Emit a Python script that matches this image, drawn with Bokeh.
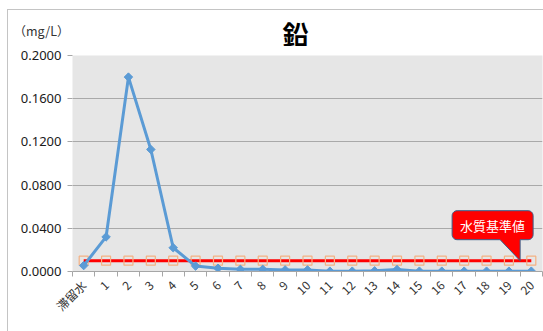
from math import pi
import numpy as np
from bokeh.plotting import figure
from bokeh.layouts import column
from bokeh.models import Range1d, FixedTicker, NumeralTickFormatter, Label
from bokeh.core.properties import value
from bokeh.embed import file_html
from bokeh.resources import INLINE

# Lead concentration by sampling point
categories = ["滞留水", "1", "2", "3", "4", "5", "6", "7", "8", "9", "10",
              "11", "12", "13", "14", "15", "16", "17", "18", "19", "20"]
lead_mg_l = [0.0055, 0.032, 0.180, 0.113, 0.022, 0.005, 0.003, 0.002, 0.002, 0.0015, 0.0015,
             0.0003, 0.0003, 0.0006, 0.0018, 0.0003, 0.0003, 0.0003, 0.0003, 0.0003, 0.0003]
standard_mg_l = [0.01, 0.01, 0.01, 0.01, 0.01, 0.01, 0.01, 0.01, 0.01, 0.01, 0.01,
                 0.01, 0.01, 0.01, 0.01, 0.01, 0.01, 0.01, 0.01, 0.01, 0.01]
y_ticks = [0.0, 0.04, 0.08, 0.12, 0.16, 0.20]
title_text = "鉛"
unit_text = "（mg/L）"
callout_text = "水質基準値"

JP = "Noto Sans CJK JP"
n = len(categories)
xs = [i + 0.5 for i in range(n)]

W = 535
HEAD_H = 36
H = 321 - HEAD_H
BL, BT, BR, BB = 64, 9, 1, 60
frame_w = W - BL - BR
frame_h = H - BT - BB
y_max = 0.2
px_x = frame_w / n          # pixels per category
px_y = frame_h / y_max      # pixels per mg/L

x_range = Range1d(0, n)

# header strip: title in the middle, unit as a tick label on its left axis
head = figure(width=W, height=HEAD_H, x_range=x_range, y_range=Range1d(0, HEAD_H),
              output_backend="svg", toolbar_location=None, x_axis_location=None,
              min_border_left=BL, min_border_right=BR, min_border_top=0, min_border_bottom=0)
head.grid.visible = False
head.outline_line_color = None
head.background_fill_color = "white"
head.border_fill_color = "white"
ha = head.yaxis[0]
ha.ticker = FixedTicker(ticks=[16])
ha.major_label_overrides = {16: unit_text}
ha.axis_line_color = None
ha.major_tick_line_color = None
ha.minor_tick_line_color = None
ha.major_tick_in = 0
ha.major_tick_out = 0
ha.major_label_standoff = 3
ha.major_label_text_font = JP
ha.major_label_text_font_size = "12.5px"
ha.major_label_text_color = "#333333"
head.text(x=[(295 - 72) / px_x], y=[13.5], text=[title_text], text_align="center",
          text_baseline="middle", text_font=value(JP), text_font_size="26px",
          text_font_style="bold", text_color="black")

p = figure(width=W, height=H, x_range=x_range, y_range=Range1d(0, y_max),
           output_backend="svg", toolbar_location=None,
           min_border_left=BL, min_border_top=BT, min_border_right=BR, min_border_bottom=BB)
p.background_fill_color = "#e6e6e6"
p.border_fill_color = "white"
p.outline_line_color = None

# grid
p.xgrid.grid_line_color = None
p.ygrid.grid_line_color = "#a9a9a9"
p.ygrid.ticker = FixedTicker(ticks=y_ticks)

# x axis: labels at centres, ticks at category boundaries
xa = p.xaxis[0]
xa.ticker = FixedTicker(ticks=xs, minor_ticks=list(range(n + 1)))
xa.major_label_overrides = {x: c for x, c in zip(xs, categories)}
xa.major_tick_line_color = None
xa.major_tick_out = 0
xa.minor_tick_in = 0
xa.minor_tick_out = 5
xa.minor_tick_line_color = "#a6a6a6"
xa.axis_line_color = "#a6a6a6"
xa.major_label_orientation = pi / 4
xa.major_label_text_font = JP
xa.major_label_text_font_size = "12px"
xa.major_label_text_color = "#333333"
xa.major_label_standoff = 6

# y axis
ya = p.yaxis[0]
ya.ticker = FixedTicker(ticks=y_ticks)
ya.formatter = NumeralTickFormatter(format="0.0000")
ya.axis_line_color = None
ya.major_tick_in = 0
ya.major_tick_out = 5
ya.major_tick_line_color = "#a6a6a6"
ya.minor_tick_line_color = None
ya.major_label_text_font = "Noto Sans"
ya.major_label_text_font_size = "13px"
ya.major_label_text_color = "#1a1a1a"
ya.major_label_standoff = 6

# standard value series
p.line(xs, standard_mg_l, line_color="#ff0000", line_width=3)
p.scatter(xs, standard_mg_l, marker="square", size=9, fill_color=None,
          line_color="#f4b183", line_width=1.2)

# lead series
p.line(xs, lead_mg_l, line_color="#5b9bd5", line_width=3)
p.scatter(xs, lead_mg_l, marker="square", angle=pi / 4, size=6,
          fill_color="#5b9bd5", line_color="#5b9bd5")

# callout pointing at the standard line
tip_x, tip_y = 20.0, standard_mg_l[-1]
left, right, bottom, top, r = -68, 13, 21, 50, 5


def arc(cx, cy, a0, a1):
    t = np.linspace(np.radians(a0), np.radians(a1), 8)
    return list(cx + r * np.cos(t)), list(cy + r * np.sin(t))


px_pts, py_pts = [left + r, -20, 0, 0], [bottom, bottom, 0, bottom]
for cx, cy, a0, a1 in [(right - r, bottom + r, -90, 0), (right - r, top - r, 0, 90),
                       (left + r, top - r, 90, 180), (left + r, bottom + r, 180, 270)]:
    ax_, ay_ = arc(cx, cy, a0, a1)
    px_pts += ax_
    py_pts += ay_
p.patch([tip_x + v / px_x for v in px_pts], [tip_y + v / px_y for v in py_pts],
        fill_color="#ff0000", line_color="#3a5f8a", line_width=1)
p.add_layout(Label(x=tip_x + (left + right) / 2 / px_x, y=tip_y + (bottom + top) / 2 / px_y,
                   text=callout_text, text_align="center", text_baseline="middle",
                   text_color="white", text_font=JP, text_font_size="13px"))

layout = column(head, p, spacing=0)
layout.margin = (9, 0, 0, 7)
layout.styles = {"border-top": "1px solid #c4c4c4", "border-left": "1px solid #c4c4c4"}

open("out.html", "w").write(file_html(layout, INLINE))
